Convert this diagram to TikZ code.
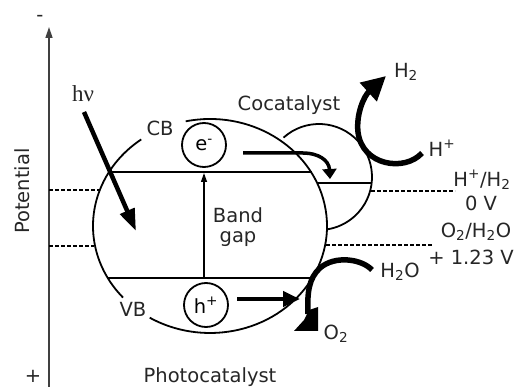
\documentclass[tikz,border=0pt]{standalone}
\usepackage{fontspec}
\setmainfont{DejaVu Sans}
\newfontfamily\serifhv{Liberation Serif}
\usetikzlibrary{arrows.meta}
\tikzset{
  txt/.style={text=black!85, inner sep=0pt, font=\fontsize{19.5}{22}\selectfont},
  thin line/.style={line width=1.8pt},
  level/.style={line width=1.6pt},
  dashlevel/.style={line width=1.6pt, dash pattern=on 4pt off 2pt},
  carrier/.style={draw, circle, line width=1.8pt, minimum size=44pt, inner sep=0pt, font=\fontsize{19.5}{22}\selectfont},
}
\begin{document}
\begin{tikzpicture}[x=1pt,y=-1pt]
\useasboundingbox (0,0) rectangle (517,387);
% axis
\coordinate (axb) at (49,387);
\coordinate (axt) at (49,27);
\draw[line width=1.4pt, black!75, -{Triangle[length=11pt,width=7pt]}] (axb) -- (axt);
\node[txt] (minus) at (40,18) {-};
\node[txt] (plus) at (33,376) {+};
\node[txt, rotate=90] (pot) at (22,191) {Potential};

% big photocatalyst circle (with gaps at CB and VB labels)
\coordinate (bc) at (210,226);
\draw[thin line] (bc) ++(-102:117 and 107) arc[start angle=-102, end angle=121, x radius=117, y radius=107];
\draw[thin line] (bc) ++(138:117 and 107) arc[start angle=138, end angle=234, x radius=117, y radius=107];
% cocatalyst
\coordinate (cc) at (319,177);
\draw[thin line] (cc) ++(-132:53) arc[start angle=-132, end angle=81, radius=53];

% levels
\coordinate (cbL) at (109,172); \coordinate (cbR) at (312,172);
\draw[level] (cbL) -- (cbR);
\coordinate (coL) at (317,183); \coordinate (coR) at (372,183);
\draw[level] (coL) -- (coR);
\coordinate (vbL) at (108,278); \coordinate (vbR) at (312,278);
\draw[level] (vbL) -- (vbR);
% dashed potentials
\coordinate (d1a) at (49,190); \coordinate (d1b) at (99,190);
\draw[dashlevel] (d1a) -- (d1b);
\coordinate (d2a) at (49,246); \coordinate (d2b) at (94,246);
\draw[dashlevel] (d2a) -- (d2b);
\coordinate (d3a) at (371,191); \coordinate (d3b) at (455,191);
\draw[dashlevel] (d3a) -- (d3b);
\coordinate (d4a) at (326,245); \coordinate (d4b) at (433,245);
\draw[dashlevel] (d4a) -- (d4b);

% band gap arrow
\coordinate (bgb) at (204,278); \coordinate (bgt) at (204,173);
\draw[line width=1.2pt, -{Triangle[length=9pt,width=6pt]}] (bgb) -- (bgt);
\node[txt, align=center] (bg) at (238,227) {Band\\[-2pt]gap};

% carriers
\node[carrier] (e) at (204,145) {e\textsuperscript{-}};
\node[carrier] (h) at (206,305) {h\textsuperscript{+}};

% labels
\node[txt, font=\serifhv\fontsize{23}{25}\selectfont] (hv) at (83,94) {hν};
\node[txt] (cb) at (160,128) {CB};
\node[txt] (vb) at (133,309) {VB};
\node[txt] (coc) at (289,105) {Cocatalyst};
\node[txt] (photo) at (210,377) {Photocatalyst};
\node[txt] (h2) at (406,72) {H\textsubscript{2}};
\node[txt] (hp) at (442,148) {H\textsuperscript{+}};
\node[txt] (hh) at (482,180) {H\textsuperscript{+}/H\textsubscript{2}};
\node[txt] (zv) at (481,203) {0 V};
\node[txt] (oh) at (476,232) {O\textsubscript{2}/H\textsubscript{2}O};
\node[txt] (ov) at (471,257) {+ 1.23 V};
\node[txt] (h2o) at (400,272) {H\textsubscript{2}O};
\node[txt] (o2) at (336,334) {O\textsubscript{2}};

% h nu arrow
\coordinate (hva) at (84,112); \coordinate (hvb) at (136,231);
\draw[line width=4.5pt, -{Triangle[length=22pt,width=15pt]}] (hva) -- (hvb);

% electron transfer arrow
\coordinate (ea) at (243,153); \coordinate (eb) at (303,153); \coordinate (ec) at (330,179);
\draw[line width=3.5pt, -{Triangle[length=10pt,width=14pt]}] (ea) -- (eb) .. controls (318,153) and (329,160) .. (ec);

% hole transfer arrow
\coordinate (ha) at (237,299); \coordinate (hb) at (300,299);
\draw[line width=4pt, -{Triangle[length=17pt,width=15pt]}] (ha) -- (hb);

% H+ -> H2
\coordinate (hpa) at (422,153); \coordinate (h2t) at (386,76);
\draw[line width=5.5pt, -{Triangle[length=24pt,width=24pt]}] (hpa) .. controls (405,172) and (362,166) .. (358,132) .. controls (356,114) and (364,96) .. (h2t);

% H2O -> O2
\coordinate (wa) at (372,270); \coordinate (wb) at (308,314);
\draw[line width=5.5pt] (wa) .. controls (362,259) and (335,255) .. (320,268) .. controls (309,278) and (307,292) .. (wb);
\fill (294,331) -- (318,331) -- (318,307) -- (309,310) -- (304,320) -- cycle;
\end{tikzpicture}
\end{document}
